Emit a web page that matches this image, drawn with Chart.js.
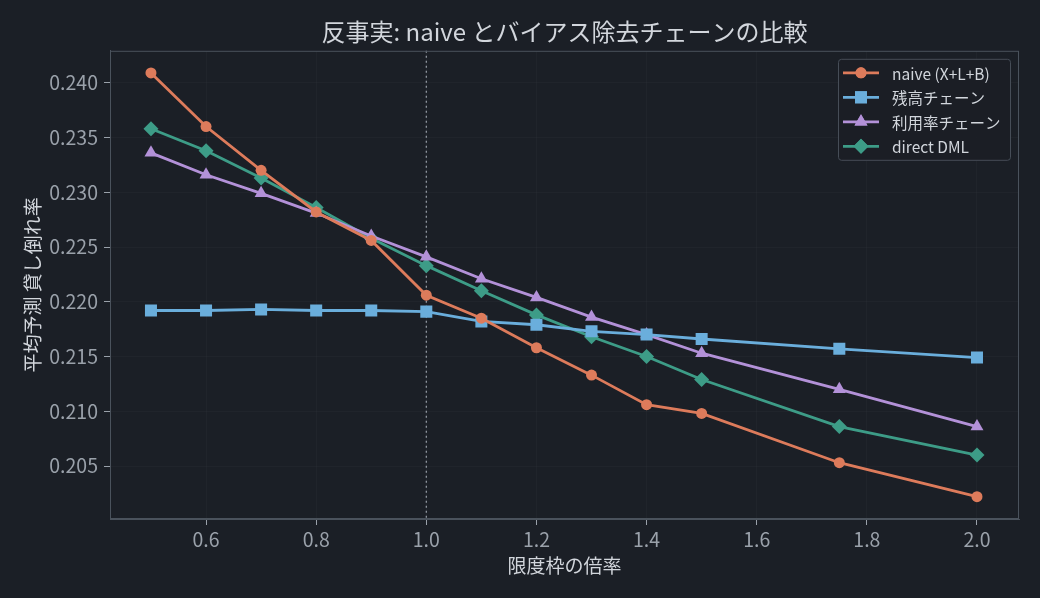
<!DOCTYPE html>
<html lang="ja">
<head>
<meta charset="UTF-8">
<title>反事実: naive とバイアス除去チェーンの比較</title>
<script src="https://cdn.jsdelivr.net/npm/chart.js"></script>
<style>
    html, body {
        margin: 0;
        padding: 0;
        background: #1b1f26;
    }
    #wrap {
        width: 1040px;
        height: 598px;
    }
</style>
</head>
<body>
<div id="wrap"><canvas id="chart" width="1040" height="598"></canvas></div>
<script>
    // data
    const multipliers = [0.5, 0.6, 0.7, 0.8, 0.9, 1.0, 1.1, 1.2, 1.3, 1.4, 1.5, 1.75, 2.0];
    const naive = [0.2409, 0.2360, 0.2320, 0.2282, 0.2256, 0.2206, 0.2185, 0.2158, 0.2133, 0.2106, 0.2098, 0.2053, 0.2022];
    const balanceChain = [0.2192, 0.2192, 0.2193, 0.2192, 0.2192, 0.2191, 0.2182, 0.2179, 0.2173, 0.2170, 0.2166, 0.2157, 0.2149];
    const utilChain = [0.2336, 0.2316, 0.2299, 0.2281, 0.2260, 0.2241, 0.2221, 0.2204, 0.2186, 0.2170, 0.2153, 0.2120, 0.2086];
    const directDml = [0.2358, 0.2338, 0.2313, 0.2286, 0.2258, 0.2233, 0.2210, 0.2188, 0.2168, 0.2150, 0.2129, 0.2086, 0.2060];

    const xTicks = [0.6, 0.8, 1.0, 1.2, 1.4, 1.6, 1.8, 2.0];
    const yTicks = [0.205, 0.210, 0.215, 0.220, 0.225, 0.230, 0.235, 0.240];
    const baselineX = 1.0;

    const FONT = '"Noto Sans CJK JP", "Noto Sans", sans-serif';
    const textColor = '#d2d6dc';
    const tickColor = '#9aa1aa';
    const spineColor = '#4a525c';

    const toPoints = ys => ys.map((y, i) => ({ x: multipliers[i], y: y }));

    const series = [
        { label: 'naive (X+L+B)', data: naive, color: '#dd7b5b', style: 'circle', radius: 5.5 },
        { label: '残高チェーン', data: balanceChain, color: '#6aaedc', style: 'rect', radius: 8.5 },
        { label: '利用率チェーン', data: utilChain, color: '#b391d8', style: 'triangle', radius: 7.5 },
        { label: 'direct DML', data: directDml, color: '#3d9c87', style: 'rectRot', radius: 7.5 }
    ];

    // dotted reference line + full frame
    const framePlugin = {
        id: 'frame',
        beforeDatasetsDraw(chart) {
            const { ctx, chartArea, scales } = chart;
            const x = scales.x.getPixelForValue(baselineX);
            ctx.save();
            ctx.strokeStyle = '#9aa1aa';
            ctx.lineWidth = 1.2;
            ctx.setLineDash([2, 3]);
            ctx.beginPath();
            ctx.moveTo(x, chartArea.top);
            ctx.lineTo(x, chartArea.bottom);
            ctx.stroke();
            ctx.restore();
        },
        afterDraw(chart) {
            const { ctx, chartArea } = chart;
            ctx.save();
            ctx.strokeStyle = spineColor;
            ctx.lineWidth = 1;
            ctx.strokeRect(chartArea.left + 0.5, chartArea.top + 0.5,
                chartArea.right - chartArea.left - 1, chartArea.bottom - chartArea.top - 1);
            ctx.restore();
        }
    };

    // matplotlib style legend: line with marker
    const legendPlugin = {
        id: 'mplLegend',
        afterDraw(chart) {
            const { ctx, chartArea } = chart;
            const w = 172, h = 101;
            const left = chartArea.right - 9 - w;
            const top = chartArea.top + 8;
            ctx.save();
            ctx.fillStyle = 'rgba(27,31,38,0.85)';
            ctx.strokeStyle = '#464d57';
            ctx.lineWidth = 1;
            ctx.beginPath();
            ctx.roundRect(left + 0.5, top + 0.5, w, h, 3);
            ctx.fill();
            ctx.stroke();
            ctx.font = '15.5px ' + FONT;
            ctx.textBaseline = 'middle';
            chart.data.datasets.forEach((ds, i) => {
                const y = top + 14 + i * 24.5;
                ctx.strokeStyle = ds.borderColor;
                ctx.lineWidth = 2.8;
                ctx.beginPath();
                ctx.moveTo(left + 5, y);
                ctx.lineTo(left + 41, y);
                ctx.stroke();
                ctx.fillStyle = ds.borderColor;
                Chart.helpers.drawPoint(ctx, {
                    pointStyle: ds.pointStyle,
                    radius: ds.pointRadius,
                    rotation: 0,
                    borderWidth: 0
                }, left + 23, y);
                ctx.fill();
                ctx.fillStyle = textColor;
                ctx.fillText(ds.label, left + 54, y + 1);
            });
            ctx.restore();
        }
    };

    new Chart(document.getElementById('chart'), {
        type: 'line',
        data: {
            datasets: series.map(s => ({
                label: s.label,
                data: toPoints(s.data),
                borderColor: s.color,
                backgroundColor: s.color,
                pointBackgroundColor: s.color,
                pointBorderColor: s.color,
                pointStyle: s.style,
                pointRadius: s.radius,
                pointBorderWidth: 0,
                borderWidth: 2.8,
                tension: 0,
                fill: false
            }))
        },
        options: {
            responsive: false,
            animation: false,
            layout: { padding: { left: 10, right: 21, top: 0, bottom: 0 } },
            plugins: {
                legend: { display: false },
                tooltip: { enabled: false },
                title: {
                    display: true,
                    fullSize: false,
                    text: '反事実: naive とバイアス除去チェーンの比較',
                    color: textColor,
                    font: { family: FONT, size: 24, weight: 'normal' },
                    padding: { top: 17, bottom: 5 }
                }
            },
            scales: {
                x: {
                    type: 'linear',
                    min: 0.4256,
                    max: 2.0763,
                    afterBuildTicks: s => { s.ticks = xTicks.map(v => ({ value: v })); },
                    afterFit: s => { s.height = 79; },
                    grid: { color: 'rgba(255,255,255,0.025)', tickColor: tickColor, tickLength: 6 },
                    border: { color: spineColor },
                    ticks: {
                        color: tickColor,
                        font: { family: FONT, size: 19.5 },
                        padding: 3,
                        maxRotation: 0,
                        callback: v => v.toFixed(1)
                    },
                    title: {
                        display: true,
                        text: '限度枠の倍率',
                        color: textColor,
                        font: { family: FONT, size: 19 },
                        padding: { top: 0, bottom: 21 }
                    }
                },
                y: {
                    min: 0.20016,
                    max: 0.24292,
                    afterBuildTicks: s => { s.ticks = yTicks.map(v => ({ value: v })); },
                    afterFit: s => { s.width = 100; },
                    grid: { color: 'rgba(255,255,255,0.025)', tickColor: tickColor, tickLength: 6 },
                    border: { color: spineColor },
                    ticks: {
                        color: tickColor,
                        font: { family: FONT, size: 19.5 },
                        padding: 6,
                        callback: v => v.toFixed(3)
                    },
                    title: {
                        display: true,
                        text: '平均予測 貸し倒れ率',
                        color: textColor,
                        font: { family: FONT, size: 19 },
                        padding: { top: 11, bottom: 0 }
                    }
                }
            }
        },
        plugins: [framePlugin, legendPlugin]
    });
</script>
</body>
</html>
